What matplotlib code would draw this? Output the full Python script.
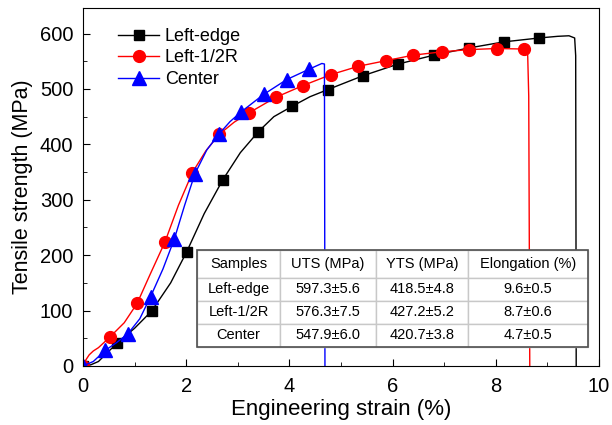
import matplotlib
matplotlib.use("Agg")
import matplotlib.pyplot as plt
from matplotlib.lines import Line2D
from matplotlib.patches import Rectangle

plt.rcParams['font.family'] = ['Liberation Sans', 'DejaVu Sans']

# curves (strain %, stress MPa)
le_strain = [0, 0.15, 0.3, 0.45, 0.66, 1.0, 1.33, 1.7, 2.01, 2.35, 2.71, 3.05, 3.40, 3.7, 4.06,
             4.4, 4.75, 5.43, 6.11, 6.80, 7.48, 8.16, 8.84, 9.2, 9.42, 9.53, 9.55, 9.56]
le_stress = [0, 2, 8, 22, 41, 68, 99, 150, 206, 275, 336, 385, 423, 450, 469,
             486, 499, 524, 545, 561, 574, 585, 592, 595, 596, 592, 560, 0]
lr_strain = [0, 0.05, 0.12, 0.2, 0.3, 0.52, 0.8, 1.05, 1.3, 1.59, 1.85, 2.12, 2.38, 2.64, 2.93,
             3.22, 3.74, 4.26, 4.81, 5.34, 5.87, 6.40, 6.95, 7.48, 8.02, 8.58, 8.62, 8.64, 8.66]
lr_stress = [0, 10, 20, 27, 33, 52, 78, 113, 165, 224, 290, 349, 388, 418, 440,
             457, 485, 506, 526, 541, 551, 561, 567, 571, 573, 572, 560, 487, 0]
c_strain = [0, 0.2, 0.43, 0.65, 0.87, 1.1, 1.31, 1.55, 1.77, 1.97, 2.17, 2.4, 2.64, 2.85,
            3.07, 3.50, 3.95, 4.39, 4.63, 4.68, 4.69]
c_stress = [0, 8, 28, 42, 58, 85, 125, 175, 229, 290, 347, 390, 419, 441,
            459, 490, 517, 536, 546, 545, 0]

# marker points
le_mx = [0, 0.66, 1.33, 2.01, 2.71, 3.40, 4.06, 4.75, 5.43, 6.11, 6.80, 7.48, 8.16, 8.84]
le_my = [0, 41, 99, 206, 336, 423, 469, 499, 524, 545, 561, 574, 585, 592]
lr_mx = [0, 0.52, 1.05, 1.59, 2.12, 2.64, 3.22, 3.74, 4.26, 4.81, 5.34, 5.87, 6.40, 6.95, 7.48, 8.02, 8.55]
lr_my = [0, 52, 113, 224, 349, 418, 457, 485, 506, 526, 541, 551, 561, 567, 571, 573, 572]
c_mx = [0, 0.43, 0.87, 1.31, 1.77, 2.17, 2.64, 3.07, 3.50, 3.95, 4.39]
c_my = [0, 28, 58, 125, 229, 347, 419, 459, 490, 517, 536]

col_labels = ['Samples', 'UTS (MPa)', 'YTS (MPa)', 'Elongation (%)']
samples = ['Left-edge', 'Left-1/2R', 'Center']
uts = ['597.3\u00b15.6', '576.3\u00b17.5', '547.9\u00b16.0']
yts = ['418.5\u00b14.8', '427.2\u00b15.2', '420.7\u00b13.8']
elong = ['9.6\u00b10.5', '8.7\u00b10.6', '4.7\u00b10.5']

fig = plt.figure(figsize=(6.12, 4.25), dpi=100)
ax = fig.add_axes([0.1356, 0.139, 0.843, 0.842])

ax.plot(le_strain, le_stress, color='black', lw=1.0)
ax.plot(le_mx, le_my, 's', color='black', ms=7.5, ls='none')
ax.plot(lr_strain, lr_stress, color='red', lw=1.0)
ax.plot(lr_mx, lr_my, 'o', color='red', ms=8.5, ls='none')
ax.plot(c_strain, c_stress, color='blue', lw=1.0)
ax.plot(c_mx, c_my, '^', color='blue', ms=9.5, ls='none')

ax.set_xlim(0, 10)
ax.set_ylim(0, 646)
ax.set_xticks([0, 2, 4, 6, 8, 10])
ax.set_xticks([1, 3, 5, 7, 9], minor=True)
ax.set_yticks([0, 100, 200, 300, 400, 500, 600])
ax.set_yticks(range(50, 646, 100), minor=True)
ax.tick_params(which='both', direction='in', labelsize=14.5)
ax.tick_params(which='major', length=5)
ax.tick_params(which='minor', length=3)
ax.tick_params(axis='x', which='major', pad=8)
ax.tick_params(axis='y', which='major', pad=7)
ax.set_xlabel('Engineering strain (%)', fontsize=16, labelpad=2)
ax.set_ylabel('Tensile strength (MPa)', fontsize=15.5, labelpad=5)

handles = [Line2D([], [], color='black', lw=1.0, marker='s', ms=7.5),
           Line2D([], [], color='red', lw=1.0, marker='o', ms=8.5),
           Line2D([], [], color='blue', lw=1.0, marker='^', ms=9.5)]
ax.legend(handles, samples, loc='upper left', bbox_to_anchor=(0.036, 0.99), frameon=False,
          fontsize=13, handlelength=2.3, handletextpad=0.3, labelspacing=0.25)

# summary table
rows = [[samples[i], uts[i], yts[i], elong[i]] for i in range(3)]
tb_box = [0.221, 0.053, 0.758, 0.271]
tb = ax.table(cellText=rows, colLabels=col_labels, cellLoc='center',
              colWidths=[0.212, 0.246, 0.235, 0.307], bbox=tb_box)
tb.auto_set_font_size(False)
tb.set_fontsize(10.5)
tb.set_zorder(5)
for (r, c), cell in tb.get_celld().items():
    cell.set_edgecolor('#c8c8c8')
    cell.set_linewidth(1.0)
    cell.set_facecolor('white')
    if r == 0:
        cell.set_height(0.077)
    else:
        cell.set_height(0.0647)
ax.add_patch(Rectangle((tb_box[0], tb_box[1]), tb_box[2], tb_box[3], transform=ax.transAxes,
                       fill=False, edgecolor='#505050', lw=1.2, zorder=6))

fig.savefig('out.png', dpi=100)
